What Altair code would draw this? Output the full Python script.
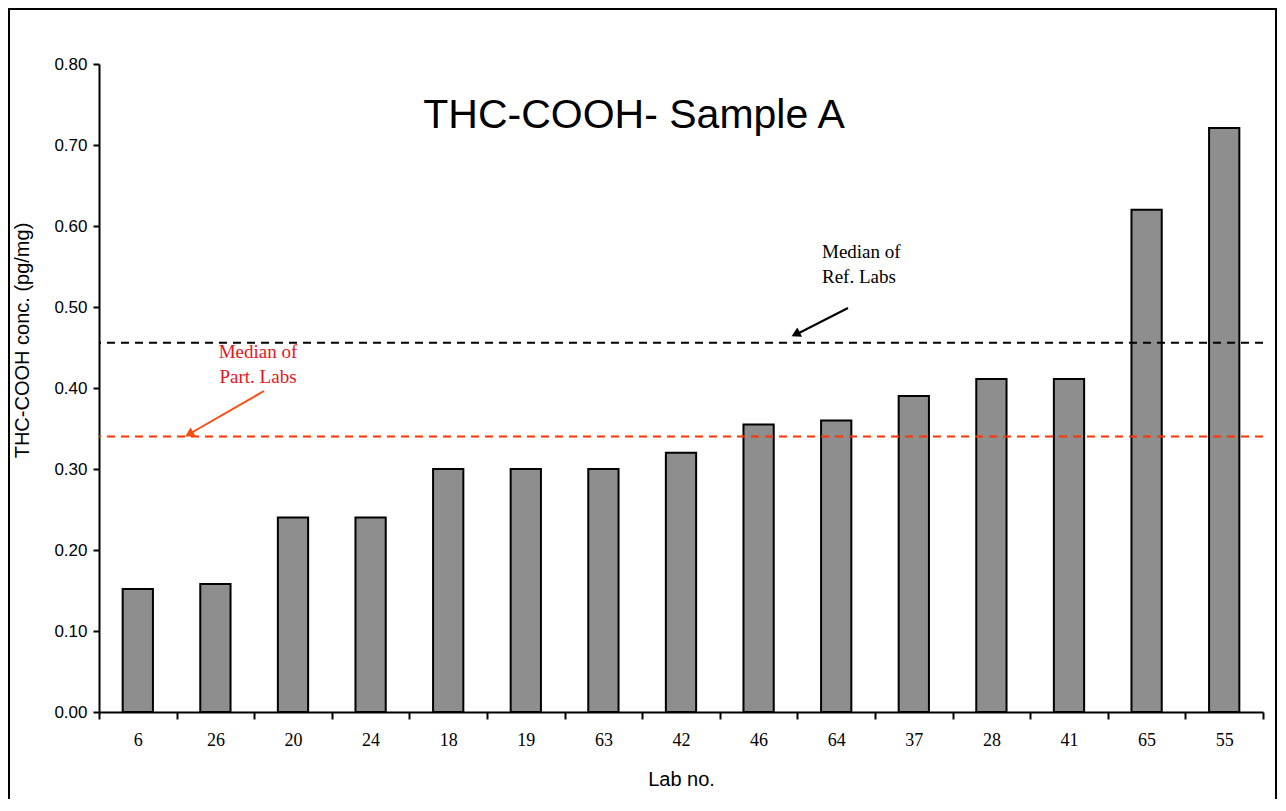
import altair as alt
import pandas as pd

labs = ["6", "26", "20", "24", "18", "19", "63", "42", "46", "64", "37", "28", "41", "65", "55"]
values = [0.152, 0.158, 0.240, 0.240, 0.300, 0.300, 0.300, 0.320, 0.355, 0.360, 0.390, 0.411, 0.411, 0.620, 0.721]
median_ref = 0.456
median_part = 0.340
y_ticks = [0.0, 0.1, 0.2, 0.3, 0.4, 0.5, 0.6, 0.7, 0.8]

df = pd.DataFrame({"lab": labs, "value": values})
one = pd.DataFrame({"k": [0]})

W, H = 1164, 648

bars = alt.Chart(df).mark_bar(color="#8E8E8E", stroke="black", strokeWidth=2,
                              width=alt.RelativeBandSize(0.39)).encode(
    x=alt.X("lab:N", sort=labs, title="Lab no.",
            scale=alt.Scale(paddingInner=0, paddingOuter=0),
            axis=alt.Axis(labelAngle=0, tickBand="extent", labelFont="Liberation Serif",
                          labelFontSize=18, labelColor="black", labelPadding=12,
                          domainColor="black", domainWidth=2, tickColor="black",
                          tickWidth=2, tickSize=7, titleFont="Liberation Sans",
                          titleFontSize=20, titleFontWeight="normal", titleColor="black",
                          titleX=W / 2, titleY=67, titleBaseline="middle")),
    y=alt.Y("value:Q", title="THC-COOH conc. (pg/mg)",
            scale=alt.Scale(domain=[0, 0.8]),
            axis=alt.Axis(values=y_ticks, format=".2f", grid=False,
                          labelFont="Liberation Sans", labelFontSize=17, labelColor="black",
                          labelPadding=6, domainColor="black", domainWidth=2,
                          tickColor="black", tickWidth=2, tickSize=6,
                          titleFont="Liberation Sans", titleFontSize=20,
                          titleFontWeight="normal", titleColor="black",
                          titleX=-77, titleY=276, titleAngle=-90,
                          titleAlign="center", titleBaseline="middle")),
)

ref_line = alt.Chart(one).mark_rule(color="black", strokeWidth=2, strokeDash=[8, 6]).encode(
    y=alt.datum(median_ref)
)
part_line = alt.Chart(one).mark_rule(color="#FF3300", strokeWidth=2, strokeDash=[8, 6]).encode(
    y=alt.datum(median_part)
)

title = alt.Chart(one).mark_text(text="THC-COOH- Sample A", font="Liberation Sans",
                                 fontSize=41, color="black", align="center",
                                 baseline="middle").encode(
    x=alt.value(535), y=alt.value(52))

ref_txt = alt.Chart(one).mark_text(text=["Median of", "Ref. Labs"], font="Liberation Serif",
                                   fontSize=19, color="black", align="left",
                                   baseline="middle", lineHeight=25).encode(
    x=alt.value(723), y=alt.value(188))

part_txt = alt.Chart(one).mark_text(text=["Median of", "Part. Labs"], font="Liberation Serif",
                                    fontSize=19, color="#E8141C", align="center",
                                    baseline="middle", lineHeight=25).encode(
    x=alt.value(159), y=alt.value(288))

ref_arrow = alt.Chart(one).mark_rule(color="black", strokeWidth=2).encode(
    x=alt.value(749), y=alt.value(244), x2=alt.value(698), y2=alt.value(270))
ref_head = alt.Chart(one).mark_point(shape="triangle", filled=True, color="black",
                                     opacity=1, size=110, angle=243).encode(
    x=alt.value(698), y=alt.value(269.5))

part_arrow = alt.Chart(one).mark_rule(color="#FF4A10", strokeWidth=2).encode(
    x=alt.value(165), y=alt.value(327), x2=alt.value(92), y2=alt.value(369))
part_head = alt.Chart(one).mark_point(shape="triangle", filled=True, color="#FF4A10",
                                      opacity=1, size=110, angle=240).encode(
    x=alt.value(91.5), y=alt.value(369.5))

border = alt.Chart(one).mark_rect(filled=False, stroke="black", strokeWidth=2).encode(
    x=alt.value(-90), x2=alt.value(1177), y=alt.value(-55), y2=alt.value(760))

chart = alt.layer(
    bars, ref_line, part_line, title, ref_txt, part_txt,
    ref_arrow, ref_head, part_arrow, part_head, border
).properties(
    width=W, height=H,
    autosize=alt.AutoSizeParams(type="none"),
    padding={"left": 91, "top": 56, "right": 15, "bottom": 87},
).configure(background="white", view=alt.ViewConfig(stroke=None))

chart.save("out.html", embed_options={"renderer": "svg", "actions": False})
